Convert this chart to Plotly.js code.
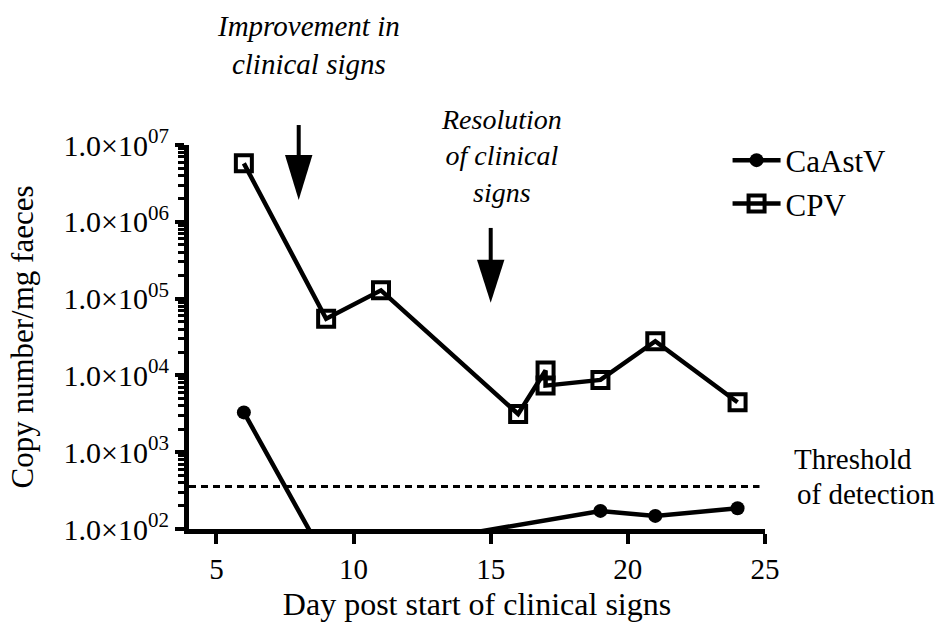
<!DOCTYPE html>
<html>
<head>
<meta charset="utf-8">
<script src="https://cdn.plot.ly/plotly-3.0.1.min.js"></script>
<style>html,body{margin:0;padding:0;background:#fff;}#chart{width:935px;height:625px;}</style>
</head>
<body>
<div id="chart"></div>
<script>
// Data
const cpvDays = [6, 9, 11, 16, 17, 17, 19, 21, 24];
const cpvCopies = [5770000, 54700, 128000, 3140, 11560, 7360, 8730, 27900, 4470];
const caastvDays = [6, 9, 11, 19, 21, 24];
const caastvCopies = [3300, 39, 56, 172, 148, 186];
const thresholdDays = [4, 24.8];
const thresholdCopies = [357, 357];
const yTickVals = [1e2, 1e3, 1e4, 1e5, 1e6, 1e7];
const yTickText = ["1.0×10<sup>02</sup>", "1.0×10<sup>03</sup>", "1.0×10<sup>04</sup>", "1.0×10<sup>05</sup>", "1.0×10<sup>06</sup>", "1.0×10<sup>07</sup>"];

const FONT = 'Liberation Serif';

const traces = [
  {
    x: caastvDays, y: caastvCopies, name: 'CaAstV', type: 'scatter', mode: 'lines+markers',
    line: {color: '#000', width: 4.5},
    marker: {symbol: 'circle', size: 14, color: '#000'}
  },
  {
    x: cpvDays, y: cpvCopies, name: 'CPV', type: 'scatter', mode: 'lines+markers',
    line: {color: '#000', width: 4.5},
    marker: {symbol: 'square-open', size: 16, color: '#000', line: {color: '#000', width: 4}}
  },
  {
    x: thresholdDays, y: thresholdCopies, type: 'scatter', mode: 'lines', showlegend: false,
    line: {color: '#000', width: 3, dash: '7px,5px'}, hoverinfo: 'skip'
  }
];

const layout = {
  width: 935, height: 625,
  margin: {l: 189, r: 170, t: 145, b: 95.5},
  paper_bgcolor: '#fff', plot_bgcolor: '#fff',
  font: {family: FONT, color: '#000', size: 29},
  showlegend: true,
  legend: {x: 0.935, y: 1.03, xanchor: 'left', yanchor: 'top', font: {family: FONT, size: 31}, bgcolor: 'rgba(0,0,0,0)', itemwidth: 48},
  xaxis: {
    range: [4, 25], tickmode: 'linear', tick0: 0, dtick: 5,
    showgrid: false, zeroline: false, showline: true, linewidth: 5, linecolor: '#000',
    ticks: 'outside', ticklen: 10, tickwidth: 4, tickcolor: '#000',
    tickfont: {family: FONT, size: 29},
    title: {text: 'Day post start of clinical signs', font: {family: FONT, size: 32}, standoff: 10}
  },
  yaxis: {
    type: 'log', range: [2, 7],
    tickmode: 'array', tickvals: yTickVals, ticktext: yTickText,
    showgrid: false, zeroline: false, showline: true, linewidth: 5, linecolor: '#000',
    ticks: 'outside', ticklen: 9, tickwidth: 4, tickcolor: '#000',
    tickfont: {family: FONT, size: 30},
    minor: {ticks: 'outside', ticklen: 6, tickwidth: 3, tickcolor: '#000', dtick: 'D1', showgrid: false},
    title: {text: 'Copy number/mg faeces', font: {family: FONT, size: 31}, standoff: 22}
  },
  shapes: [
    {type: 'line', xref: 'x', yref: 'paper', x0: 8, x1: 8, y0: 1.052, y1: 0.96, line: {color: '#000', width: 4}},
    {type: 'path', xref: 'x', yref: 'paper', path: 'M 7.5,0.974 L 8.5,0.974 L 8,0.857 Z', fillcolor: '#000', line: {color: '#000', width: 0}},
    {type: 'line', xref: 'x', yref: 'paper', x0: 15, x1: 15, y0: 0.784, y1: 0.69, line: {color: '#000', width: 4}},
    {type: 'path', xref: 'x', yref: 'paper', path: 'M 14.5,0.701 L 15.5,0.701 L 15,0.589 Z', fillcolor: '#000', line: {color: '#000', width: 0}}
  ],
  annotations: [
    {text: '<i>Improvement in</i><br><i>clinical signs</i>', xref: 'paper', yref: 'paper', x: 0.207, y: 1.26, xanchor: 'center', yanchor: 'middle', showarrow: false, font: {family: FONT, size: 29}},
    {text: '<i>Resolution</i><br><i>of clinical</i><br><i>signs</i>', xref: 'paper', yref: 'paper', x: 0.543, y: 0.971, xanchor: 'center', yanchor: 'middle', showarrow: false, font: {family: FONT, size: 28}},
    {text: 'Threshold', xref: 'paper', yref: 'paper', x: 1.153, y: 0.181, xanchor: 'center', yanchor: 'middle', showarrow: false, font: {family: FONT, size: 29}},
    {text: 'of detection', xref: 'paper', yref: 'paper', x: 1.1753, y: 0.09, xanchor: 'center', yanchor: 'middle', showarrow: false, font: {family: FONT, size: 29}}
  ]
};

Plotly.newPlot('chart', traces, layout, {displayModeBar: false, staticPlot: true});
</script>
</body>
</html>
